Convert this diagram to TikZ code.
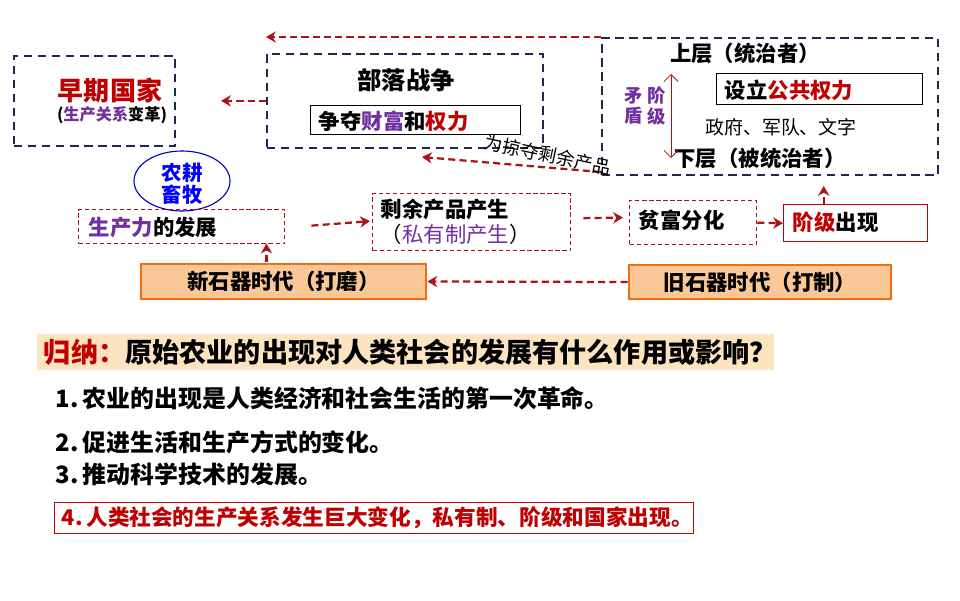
\documentclass[tikz,border=0pt]{standalone}
\usepackage{fontspec}
\setmainfont{Noto Sans CJK SC}
\usetikzlibrary{arrows.meta, positioning, calc, shapes.geometric}
\definecolor{navyline}{RGB}{31, 40, 85}
\definecolor{darkred}{RGB}{192, 0, 0}
\definecolor{arrowred}{RGB}{170, 20, 20}
\definecolor{purpletext}{RGB}{112, 48, 160}
\definecolor{orangefill}{RGB}{250, 200, 150}
\definecolor{orangeline}{RGB}{240, 110, 20}
\definecolor{barfill}{RGB}{252, 228, 192}
\newlength\px
\setlength\px{0.7114pt}
\tikzset{
  navybox/.style={draw=navyline, line width=1.2pt, dash pattern=on 6pt off 4pt},
  redbox/.style={draw=arrowred, line width=0.9pt, dash pattern=on 3pt off 2pt},
  ageboxes/.style={draw=orangeline, fill=orangefill, line width=2pt},
  flow/.style={-{Stealth[length=7pt,width=8pt]}, draw=arrowred, line width=1.6pt, dash pattern=on 5pt off 3pt},
  big/.style={font=\fontsize{17.3}{20}\selectfont\bfseries},
  mid/.style={font=\fontsize{15.2}{18}\selectfont\bfseries},
  list/.style={font=\fontsize{17}{20}\selectfont\bfseries, anchor=west},
}
\begin{document}
\begin{tikzpicture}[x=0.025cm, y=-0.025cm]
  \useasboundingbox (0,0) rectangle (960,600);

  % upper blocks
  \node[navybox, minimum width=161\px, minimum height=90\px, inner sep=0, anchor=north west] (state) at (13,55) {};
  \node[text=darkred, font=\fontsize{18.5}{22}\selectfont\bfseries] at (110,90) {早期国家};
  \node[font=\fontsize{11.5}{14}\selectfont\bfseries] at (112,115) {(\textcolor{purpletext}{生产关系}变革)};

  \node[navybox, minimum width=276\px, minimum height=94\px, inner sep=0, anchor=north west] (war) at (266,53) {};
  \node[big] at (406,80) {部落战争};
  \node[draw, line width=0.8pt, minimum width=210\px, minimum height=29\px, inner sep=0, anchor=north west] (fight) at (310,105) {};
  \node[mid, anchor=west] at (314,121) {争夺\textcolor{purpletext}{财富}和\textcolor{darkred}{权力}};

  \node[navybox, minimum width=336\px, minimum height=137\px, inner sep=0, anchor=north west] (rule) at (601,37) {};
  \node[mid] at (745,53) {上层（统治者）};
  \node[draw, line width=0.8pt, minimum width=206\px, minimum height=31\px, inner sep=0, anchor=north west] (power) at (716,73) {};
  \node[mid, anchor=west] at (720,90) {设立\textcolor{darkred}{公共权力}};
  \node[font=\fontsize{13.5}{16}\selectfont] at (781,127) {政府、军队、文字};
  \node[mid] at (760,158) {下层（被统治者）};
  \node[font=\fontsize{13}{14.5}\selectfont\bfseries, text=purpletext, align=center] at (634,106) {矛\\盾};
  \node[font=\fontsize{13}{14.5}\selectfont\bfseries, text=purpletext, align=center] at (657,106) {阶\\级};
  \coordinate (up) at (671,74);
  \coordinate (down) at (671,158);
  \draw[{Straight Barb[length=5pt]}-{Straight Barb[length=5pt]}, draw=arrowred, line width=0.6pt] (up) -- (down);

  % middle row
  \node[draw=blue!80!black, line width=0.8pt, ellipse, minimum width=96\px, minimum height=60\px, inner sep=0] (farm) at (182,181) {};
  \node[font=\fontsize{14.5}{16}\selectfont\bfseries, text=blue, align=center] at (182,184) {农耕\\畜牧};
  \node[redbox, minimum width=206\px, minimum height=34\px, inner sep=0, anchor=north west] (force) at (78,209) {};
  \node[mid, anchor=west] at (84,227) {\textcolor{purpletext}{生产力}的发展};
  \node[redbox, minimum width=198\px, minimum height=57\px, inner sep=0, anchor=north west] (surplus) at (372,193) {};
  \node[mid, align=left, anchor=north west] at (376,194) {剩余产品产生\\\mdseries（\textcolor{purpletext}{私有制产生}）};
  \node[redbox, minimum width=127\px, minimum height=44\px, inner sep=0, anchor=north west] (gap) at (629,200) {};
  \node[mid, anchor=west] at (634,220) {贫富分化};
  \node[draw=darkred, line width=1pt, minimum width=144\px, minimum height=37\px, inner sep=0, anchor=north west] (class) at (783,204) {};
  \node[mid, anchor=west] at (788,222) {\textcolor{darkred}{阶级}出现};

  % stone ages
  \node[ageboxes, minimum width=285\px, minimum height=35\px, inner sep=0, mid] (neo) at (283.5,281.5) {新石器时代（打磨）};
  \node[ageboxes, minimum width=262\px, minimum height=34\px, inner sep=0, mid] (paleo) at (760,282) {旧石器时代（打制）};

  % connectors
  \draw[flow] (rule.north west) -- (rule.north west -| war.west);
  \draw[flow] (war.west) -- ++(-45,0) coordinate (stateend);
  \draw[flow] (paleo.west) -- (neo.east);
  \draw[flow] (neo.north) ++(-17,-1) coordinate (neotop) -- ++(0,-18);
  \draw[flow] ($(force.east)+(26,-1)$) -- ($(surplus.west)+(-2,-1)$);
  \draw[flow] ($(surplus.east)+(12,-4)$) -- ($(gap.west)+(-6,-5)$);
  \draw[flow] (gap.east) -- (class.west);
  \draw[flow] (class.north) ++(-32,0) -- ++(0,-18);
  \coordinate (raid) at (601,172);
  \draw[flow] (raid) -- (422,157);
  \node[font=\fontsize{13}{15}\selectfont, rotate=-12] (raidtext) at (548,155) {为掠夺剩余产品};

  % summary
  \node[fill=barfill, minimum width=736\px, minimum height=36\px, inner sep=0, anchor=north west] (bar) at (37,334) {};
  \node[font=\fontsize{19.3}{22}\selectfont\bfseries, anchor=west] at (39,352) {\textcolor{darkred}{归纳：}原始农业的出现对人类社会的发展有什么作用或影响？};
  \node[list] (one) at (51,398) {1.\,农业的出现是人类经济和社会生活的第一次革命。};
  \node[list] (two) at (51,442) {2.\,促进生活和生产方式的变化。};
  \node[list] (three) at (51,474) {3.\,推动科学技术的发展。};
  \node[draw=darkred, line width=0.8pt, minimum width=639\px, minimum height=31\px, inner sep=0, anchor=north west] (four) at (54,502) {};
  \node[list, text=darkred, font=\fontsize{15.4}{18}\selectfont\bfseries] at (57,518) {4.\,人类社会的生产关系发生巨大变化，私有制、阶级和国家出现。};
\end{tikzpicture}
\end{document}
